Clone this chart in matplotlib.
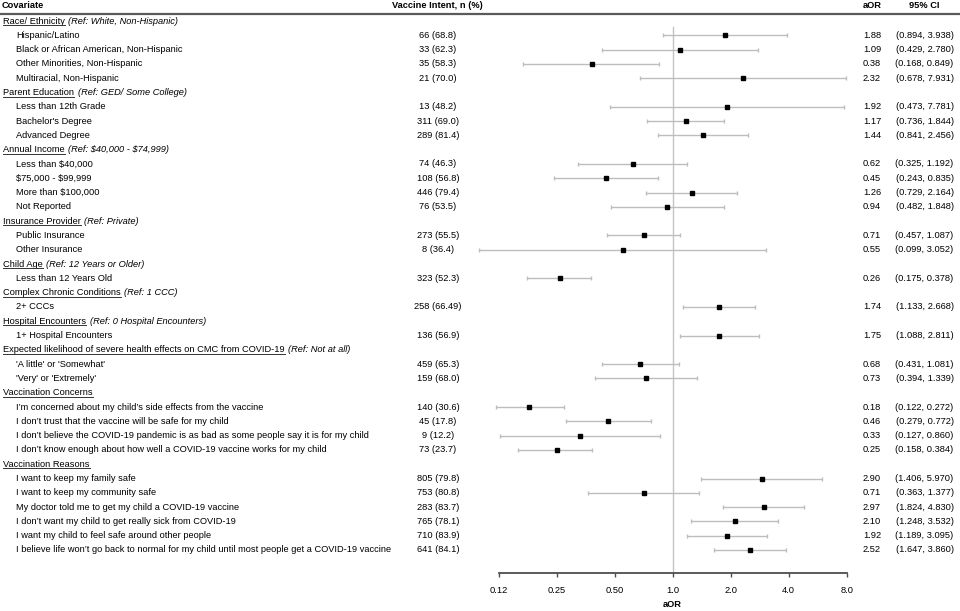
import matplotlib
matplotlib.use("Agg")
import matplotlib.pyplot as plt
import matplotlib.transforms as mtransforms
from matplotlib.lines import Line2D
import numpy as np

plt.rcParams['font.family'] = ['Liberation Sans', 'DejaVu Sans']

# ---------------- data ----------------
group_titles = ["Race/ Ethnicity", "Parent Education", "Annual Income", "Insurance Provider",
                "Child Age", "Complex Chronic Conditions", "Hospital Encounters",
                "Expected likelihood of severe health effects on CMC from COVID-19",
                "Vaccination Concerns", "Vaccination Reasons"]
group_refs = ["(Ref: White, Non-Hispanic)", "(Ref: GED/ Some College)", "(Ref: \\$40,000 - \\$74,999)",
              "(Ref: Private)", "(Ref: 12 Years or Older)", "(Ref: 1 CCC)",
              "(Ref: 0 Hospital Encounters)", "(Ref: Not at all)", "", ""]
group_sizes = [4, 3, 4, 2, 1, 1, 1, 2, 4, 6]

covariates = [
    "Hispanic/Latino", "Black or African American, Non-Hispanic", "Other Minorities, Non-Hispanic",
    "Multiracial, Non-Hispanic",
    "Less than 12th Grade", "Bachelor's Degree", "Advanced Degree",
    "Less than \\$40,000", "\\$75,000 - \\$99,999", "More than \\$100,000", "Not Reported",
    "Public Insurance", "Other Insurance",
    "Less than 12 Years Old",
    "2+ CCCs",
    "1+ Hospital Encounters",
    "'A little' or 'Somewhat'", "'Very' or 'Extremely'",
    "I\u2019m concerned about my child\u2019s side effects from the vaccine",
    "I don\u2019t trust that the vaccine will be safe for my child",
    "I don\u2019t believe the COVID-19 pandemic is as bad as some people say it is for my child",
    "I don\u2019t know enough about how well a COVID-19 vaccine works for my child",
    "I want to keep my family safe", "I want to keep my community safe",
    "My doctor told me to get my child a COVID-19 vaccine",
    "I don\u2019t want my child to get really sick from COVID-19",
    "I want my child to feel safe around other people",
    "I believe life won\u2019t go back to normal for my child until most people get a COVID-19 vaccine",
]
intent_n = [66, 33, 35, 21, 13, 311, 289, 74, 108, 446, 76, 273, 8, 323, 258, 136, 459, 159,
            140, 45, 9, 73, 805, 753, 283, 765, 710, 641]
intent_pct = ["68.8", "62.3", "58.3", "70.0", "48.2", "69.0", "81.4", "46.3", "56.8", "79.4", "53.5",
              "55.5", "36.4", "52.3", "66.49", "56.9", "65.3", "68.0", "30.6", "17.8", "12.2", "23.7",
              "79.8", "80.8", "83.7", "78.1", "83.9", "84.1"]
aor = [1.88, 1.09, 0.38, 2.32, 1.92, 1.17, 1.44, 0.62, 0.45, 1.26, 0.94, 0.71, 0.55, 0.26, 1.74, 1.75,
       0.68, 0.73, 0.18, 0.46, 0.33, 0.25, 2.90, 0.71, 2.97, 2.10, 1.92, 2.52]
ci_low = [0.894, 0.429, 0.168, 0.678, 0.473, 0.736, 0.841, 0.325, 0.243, 0.729, 0.482, 0.457, 0.099,
          0.175, 1.133, 1.088, 0.431, 0.394, 0.122, 0.279, 0.127, 0.158, 1.406, 0.363, 1.824, 1.248,
          1.189, 1.647]
ci_high = [3.938, 2.780, 0.849, 7.931, 7.781, 1.844, 2.456, 1.192, 0.835, 2.164, 1.848, 1.087, 3.052,
           0.378, 2.668, 2.811, 1.081, 1.339, 0.272, 0.772, 0.860, 0.384, 5.970, 1.377, 4.830, 3.532,
           3.095, 3.860]
x_ticks = [0.125, 0.25, 0.5, 1.0, 2.0, 4.0, 8.0]
x_tick_labels = ["0.12", "0.25", "0.50", "1.0", "2.0", "4.0", "8.0"]

# ---------------- layout ----------------
W, H = 960, 611
fig = plt.figure(figsize=(W / 100, H / 100), dpi=100)
FS = 6.65

row_px0, row_step = 21.0, 529.0 / 37
ax_top_px, ax_bot_px = 14.0, 572.5
ax_left_px, ax_right_px = 498.5, 846.7
ax = fig.add_axes([ax_left_px / W, (H - ax_bot_px) / H,
                   (ax_right_px - ax_left_px) / W, (ax_bot_px - ax_top_px) / H])
ax.set_xscale('log', base=2)
ax.set_xlim(x_ticks[0], x_ticks[-1])
y_top = (ax_top_px - row_px0) / row_step
y_bot = (ax_bot_px - row_px0) / row_step
ax.set_ylim(y_bot, y_top)
ax.set_yticks([])
for s in ['left', 'right', 'top']:
    ax.spines[s].set_visible(False)
ax.spines['bottom'].set_color('#4d4d4d')
ax.spines['bottom'].set_linewidth(1.3)
ax.set_xticks(x_ticks)
ax.set_xticklabels(x_tick_labels)
ax.minorticks_off()
ax.tick_params(axis='x', direction='out', length=3, width=1.0, color='#4d4d4d',
               labelsize=FS, pad=6.5)
ax.set_xlabel("aOR", fontsize=FS, fontweight='bold', labelpad=3.5)
ax.patch.set_alpha(0)

# row indices
header_rows = []
item_rows = []
r = 0
for size in group_sizes:
    header_rows.append(r)
    r += 1
    item_rows.extend(range(r, r + size))
    r += size
item_rows = np.array(item_rows)

# reference line
ref_top = (27.0 - row_px0) / row_step
ax.plot([1.0, 1.0], [ref_top, y_bot], color='#c4c4c4', lw=1.0, zorder=1, clip_on=False)

# error bars
aor_a = np.array(aor)
lo_a = np.array(ci_low)
hi_a = np.array(ci_high)
ax.errorbar(aor_a, item_rows, xerr=[aor_a - lo_a, hi_a - aor_a], fmt='s', color='black',
            markersize=3.2, ecolor='#bdbdbd', elinewidth=1.0, capsize=1.6, capthick=1.0,
            zorder=3, clip_on=False)

tr = mtransforms.blended_transform_factory(fig.transFigure, ax.transData)

# column headers
hdr_y = (6.0 - row_px0) / row_step
ax.text(2 / W, hdr_y, "Covariate", transform=tr, fontsize=FS, fontweight='bold', va='center', ha='left')
ax.text(437 / W, hdr_y, "Vaccine Intent, n (%)", transform=tr, fontsize=FS, fontweight='bold',
        va='center', ha='center')
ax.text(872 / W, hdr_y, "aOR", transform=tr, fontsize=FS, fontweight='bold', va='center', ha='center')
ax.text(924.5 / W, hdr_y, "95% CI", transform=tr, fontsize=FS, fontweight='bold', va='center', ha='center')
fig.add_artist(Line2D([0, 1], [(H - 14.0) / H] * 2, transform=fig.transFigure,
                      color='#5a5a5a', lw=1.6))

# item rows
for i, row in enumerate(item_rows):
    ax.text(16 / W, row, covariates[i], transform=tr, fontsize=FS, va='center', ha='left')
    ax.text(438 / W, row, f"{intent_n[i]} ({intent_pct[i]})", transform=tr, fontsize=FS,
            va='center', ha='center')
    ax.text(872 / W, row, f"{aor[i]:.2f}", transform=tr, fontsize=FS, va='center', ha='center')
    ax.text(924.5 / W, row, f"({ci_low[i]:.3f}, {ci_high[i]:.3f})", transform=tr, fontsize=FS,
            va='center', ha='center')

# group headers (underlined) + italic reference text
title_artists = []
for g, row in enumerate(header_rows):
    t = ax.text(3 / W, row, group_titles[g], transform=tr, fontsize=FS, va='center', ha='left')
    title_artists.append((t, row, g))

fig.canvas.draw()
renderer = fig.canvas.get_renderer()
for t, row, g in title_artists:
    bb = t.get_window_extent(renderer)
    yline = bb.y0 + 0.3
    fig.add_artist(Line2D([bb.x0 / W, bb.x1 / W], [yline / H, yline / H], transform=fig.transFigure,
                          color='#333333', lw=0.7))
    if group_refs[g]:
        ax.text((bb.x1 + 3.5) / W, row, group_refs[g], transform=tr, fontsize=FS, style='italic',
                va='center', ha='left')

fig.savefig("out.png", dpi=100)
